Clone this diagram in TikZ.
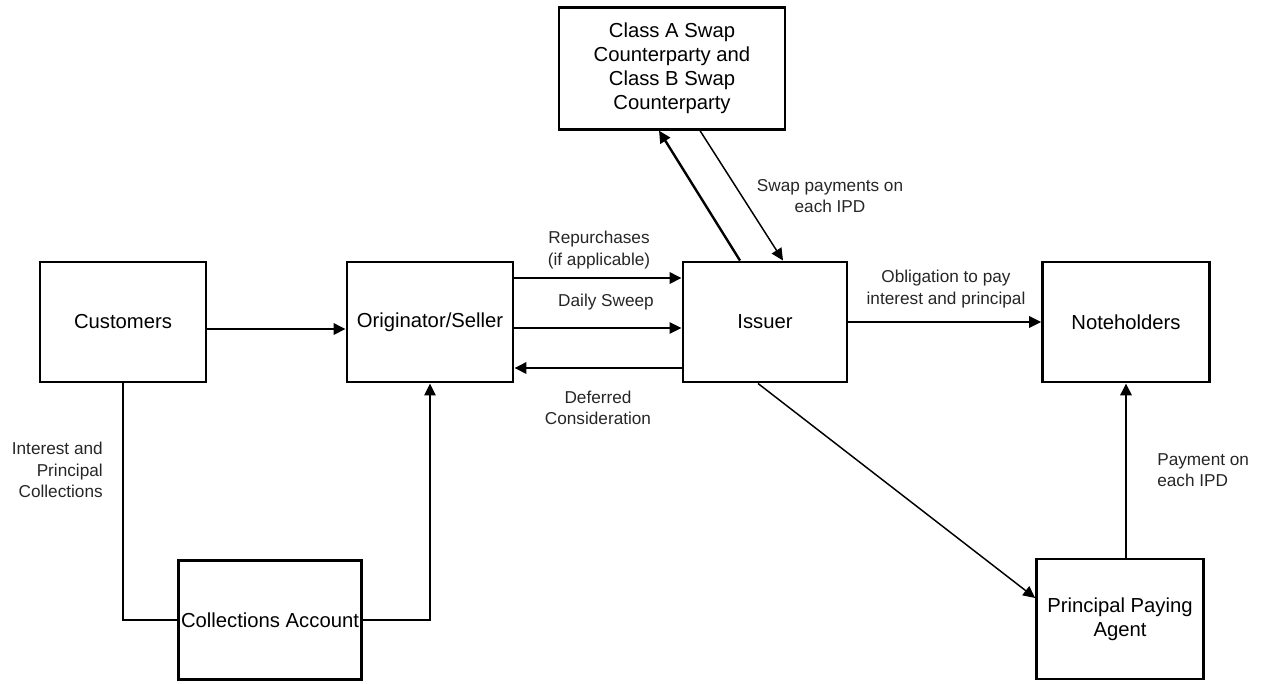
\documentclass[tikz,border=0pt]{standalone}
\usepackage{fontspec}
\setmainfont{Liberation Sans}
\usetikzlibrary{arrows.meta,calc}

\tikzset{
  party/.style={rectangle, draw=black, line width=2.2pt, align=center,
    inner sep=0, font=\fontsize{15.2}{18}\selectfont},
  flowlabel/.style={align=center, text=black!85, inner sep=0,
    font=\fontsize{12.9}{16}\selectfont},
  tip/.style={-{Triangle[length=9pt,width=8.5pt]}},
  thinflow/.style={draw=black, line width=1.1pt, tip},
  thickflow/.style={draw=black, line width=1.8pt, tip},
  plainflow/.style={draw=black, line width=1.3pt},
}

\begin{document}
\begin{tikzpicture}[x=0.75pt, y=-0.75pt]
  \useasboundingbox (0,0) rectangle (1264,683);

  % parties
  \node[party, minimum width=124.5pt, minimum height=90pt] (cust) at (123, 322) {Customers};
  \node[party, minimum width=124.5pt, minimum height=90pt] (orig) at (430, 322) {Originator/Seller};
  \node[party, minimum width=123pt, minimum height=90pt] (issuer) at (765, 322) {Issuer};
  \node[party, minimum width=125pt, minimum height=90pt] (noteh) at (1126, 322) {Noteholders};
  \node[party, minimum width=169.5pt, minimum height=91pt] (swap) at (672, 68.5)
    {Class A Swap\\Counterparty and\\Class B Swap\\Counterparty};
  \node[party, minimum width=137pt, minimum height=89pt] (coll) at (270, 620) {Collections Account};
  \node[party, minimum width=125pt, minimum height=90pt] (ppa) at (1120, 619) {Principal Paying\\Agent};

  % flows between originator and issuer
  \draw[thickflow] ($(cust.east)+(0,7)$) -- ($(orig.west)+(0,7)$);
  \draw[thickflow] ($(orig.east)+(0,-44)$) -- ($(issuer.west)+(0,-44)$);
  \draw[thinflow] ($(orig.east)+(0,6)$) -- ($(issuer.west)+(0,6)$);
  \draw[thickflow] ($(issuer.west)+(0,46)$) -- ($(orig.east)+(0,46)$);

  % swap
  \draw[thickflow] ($(issuer.north)+(-25,0)$) -- ($(swap.south)+(-13,0)$);
  \draw[thinflow] ($(swap.south)+(28,0)$) -- ($(issuer.north)+(18,0)$);

  % noteholders and paying agent
  \draw[thinflow, line width=1.4pt] (issuer.east) -- (issuer.east -| noteh.west);
  \draw[thinflow] ($(issuer.south)+(-7,0)$) -- ($(ppa.west)+(0,-21)$);
  \draw[thickflow] (noteh.south |- ppa.north) -- (noteh.south);

  % collections
  \draw[plainflow] (cust.south) |- (coll.west);
  \draw[plainflow, tip] (coll.east) -| (orig.south);

  % labels
  \node[flowlabel] (lrep) at (599, 250) {Repurchases\\(if applicable)};
  \node[flowlabel] (lsweep) at (606, 302) {Daily Sweep};
  \node[flowlabel] (ldef) at (598, 408) {Deferred\\Consideration};
  \node[flowlabel] (lswap) at (830, 196) {Swap payments on\\each IPD};
  \node[flowlabel] (loblig) at (946, 289) {Obligation to pay\\interest and principal};
  \node[flowlabel, align=right, anchor=east] (lcoll) at (103, 470) {Interest and\\Principal\\Collections};
  \node[flowlabel, align=left, anchor=west] (lpay) at (1157, 470) {Payment on\\each IPD};
\end{tikzpicture}
\end{document}
